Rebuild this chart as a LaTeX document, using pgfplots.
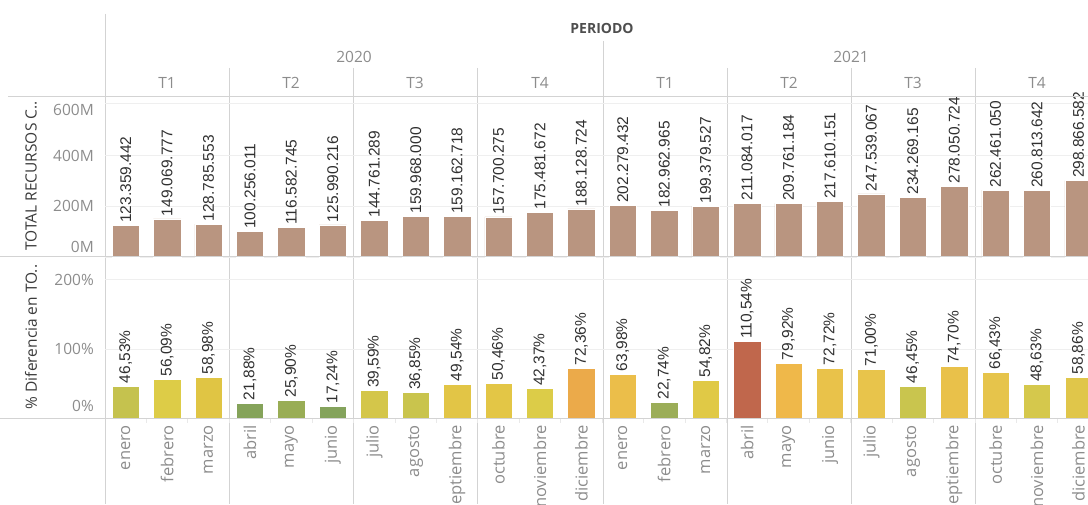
\documentclass[border=0pt]{standalone}
\usepackage{pgfplots}
\pgfplotsset{compat=1.18}
\usepackage{pgfplotstable}
\usepackage{fontspec}
\setmainfont{Open Sans}
\newfontfamily\lib{Liberation Sans}
\definecolor{brownbar}{HTML}{B99580}
\definecolor{valc}{HTML}{303030}
\definecolor{txtgray}{HTML}{8C8C8C}
\definecolor{titc}{HTML}{3A3A3A}
\definecolor{lc}{HTML}{D3D3D3}
\definecolor{gridc}{HTML}{EFEFEF}
\definecolor{pc0}{HTML}{C5C24E}
\definecolor{pc1}{HTML}{DDCC47}
\definecolor{pc2}{HTML}{E0C544}
\definecolor{pc3}{HTML}{85A35A}
\definecolor{pc4}{HTML}{99AD55}
\definecolor{pc5}{HTML}{84A35C}
\definecolor{pc6}{HTML}{D4C64A}
\definecolor{pc7}{HTML}{C9C44D}
\definecolor{pc8}{HTML}{E2C546}
\definecolor{pc9}{HTML}{E3C646}
\definecolor{pc10}{HTML}{DCCC48}
\definecolor{pc11}{HTML}{EBAA4A}
\definecolor{pc12}{HTML}{EBBE4A}
\definecolor{pc13}{HTML}{9BAD58}
\definecolor{pc14}{HTML}{E0C946}
\definecolor{pc15}{HTML}{C0674C}
\definecolor{pc16}{HTML}{EFB84A}
\definecolor{pc17}{HTML}{E9C24A}
\definecolor{pc18}{HTML}{E8C44B}
\definecolor{pc19}{HTML}{C9C54E}
\definecolor{pc20}{HTML}{E9C14A}
\definecolor{pc21}{HTML}{E6C44B}
\definecolor{pc22}{HTML}{D5C84C}
\definecolor{pc23}{HTML}{E0C64A}
\newcommand\tl[2]{\smash{\raisebox{\dimexpr #1pt - 0.36em\relax}{#2}}}
\newcommand\fs[1]{\fontsize{#1}{#1}\selectfont}

\pgfplotstableread{
x y label
0 123.359442 123.359.442
1 149.069777 149.069.777
2 128.785553 128.785.553
3 100.256011 100.256.011
4 116.582745 116.582.745
5 125.990216 125.990.216
6 144.761289 144.761.289
7 159.968000 159.968.000
8 159.162718 159.162.718
9 157.700275 157.700.275
10 175.481672 175.481.672
11 188.128724 188.128.724
12 202.279432 202.279.432
13 182.962965 182.962.965
14 199.379527 199.379.527
15 211.084017 211.084.017
16 209.761184 209.761.184
17 217.610151 217.610.151
18 247.539067 247.539.067
19 234.269165 234.269.165
20 278.050724 278.050.724
21 262.461050 262.461.050
22 260.813642 260.813.642
23 298.866582 298.866.582
}\totaltab

\pgfplotsset{
  panel/.style={
    scale only axis, width=983pt,
    xmin=-0.5, xmax=23.23,
    axis line style={draw=none},
    major tick length=0pt,
    ymajorgrids, grid style={color=gridc, line width=0.8pt},
    clip=false,
    point meta=explicit symbolic,
    nodes near coords style={rotate=90, anchor=west, font=\lib\fs{15.5}, text=valc, inner sep=2.5pt},
    yticklabel style={font=\fs{15.5}, text=txtgray, anchor=east, inner sep=0pt, xshift=-11pt},
  },
  mybar/.style={ybar, bar width=0.66, bar shift=0pt, draw=white, line width=0.5pt},
}
\newcommand\pb[3]{\addplot[mybar, fill=pc#1] coordinates {(#1,#2) [#3]};}

\begin{document}
\begin{tikzpicture}
\useasboundingbox (0,0) rectangle (1088pt,504pt);
\clip (0,0) rectangle (1088pt,504pt);
\begin{scope}[x=1pt,y=1pt]
  \draw[lc, line width=1pt] (105,490) -- (105,0);
  \draw[lc, line width=1pt] (603,463) -- (603,0);
  \foreach \q in {229,353,477,727,851,975} \draw[lc, line width=1pt] (\q,436) -- (\q,0);
  \node[font=\bfseries\fs{14}, text=titc!90] at (602,476) {PERIODO};
  \node[font=\fs{15.5}, text=txtgray] at (354,447) {2020};
  \node[font=\fs{15.5}, text=txtgray] at (851,447) {2021};
  \foreach \c/\t in {167/T1,291/T2,415/T3,540/T4,665/T1,789/T2,913/T3,1037/T4}
    \node[font=\fs{15.5}, text=txtgray] at (\c,421) {\t};
  \node[rotate=90, font=\fs{15.5}, text=titc] at (31,328) {TOTAL RECURSOS C..};
  \node[rotate=90, font=\fs{15.5}, text=titc] at (31,167) {\% Diferencia en TO..};
\end{scope}

% Top panel
\begin{axis}[panel, at={(105pt,247pt)}, anchor=south west, height=160pt,
  ymin=0, ymax=627, xtick=\empty,
  ytick={0,200,400,600},
  yticklabels={\tl{10}{0M},\tl{0}{200M},\tl{-1}{400M},\tl{-6}{600M}},
  nodes near coords={\pgfplotspointmeta},
]
\addplot[mybar, fill=brownbar] table[x=x, y=y, meta=label] {\totaltab};
\end{axis}

% Bottom panel
\begin{axis}[panel, at={(105pt,86pt)}, anchor=south west, height=161pt,
  ymin=0, ymax=233,
  ytick={0,100,200},
  yticklabels={\tl{12}{0\%},\tl{0}{100\%},\tl{0}{200\%}},
  nodes near coords={\pgfplotspointmeta\%},
  xtick={0,...,23},
  xticklabels={enero,febrero,marzo,abril,mayo,junio,julio,agosto,septiembre,octubre,noviembre,diciembre,enero,febrero,marzo,abril,mayo,junio,julio,agosto,septiembre,octubre,noviembre,diciembre},
  xticklabel style={yshift=-7pt, rotate=90, anchor=east, inner sep=0pt, font=\fs{16.5}, text=txtgray},
  minor xtick={0.5,1.5,...,22.5},
  minor tick length=5pt, xtick align=outside, tick pos=left,
  minor tick style={color=gridc!80!lc, line width=0.8pt},
]
\pb{0}{46.53}{46{,}53}
\pb{1}{56.09}{56{,}09}
\pb{2}{58.98}{58{,}98}
\pb{3}{21.88}{21{,}88}
\pb{4}{25.90}{25{,}90}
\pb{5}{17.24}{17{,}24}
\pb{6}{39.59}{39{,}59}
\pb{7}{36.85}{36{,}85}
\pb{8}{49.54}{49{,}54}
\pb{9}{50.46}{50{,}46}
\pb{10}{42.37}{42{,}37}
\pb{11}{72.36}{72{,}36}
\pb{12}{63.98}{63{,}98}
\pb{13}{22.74}{22{,}74}
\pb{14}{54.82}{54{,}82}
\pb{15}{110.54}{110{,}54}
\pb{16}{79.92}{79{,}92}
\pb{17}{72.72}{72{,}72}
\pb{18}{71.00}{71{,}00}
\pb{19}{46.45}{46{,}45}
\pb{20}{74.70}{74{,}70}
\pb{21}{66.43}{66{,}43}
\pb{22}{48.63}{48{,}63}
\pb{23}{58.86}{58{,}86}
\end{axis}

\begin{scope}[x=1pt,y=1pt]
  \draw[lc, line width=1pt] (8,407) -- (1088,407);
  \draw[lc, line width=1pt] (0,247) -- (1088,247);
  \draw[lc, line width=1pt] (0,86) -- (1088,86);
\end{scope}
\end{tikzpicture}
\end{document}
